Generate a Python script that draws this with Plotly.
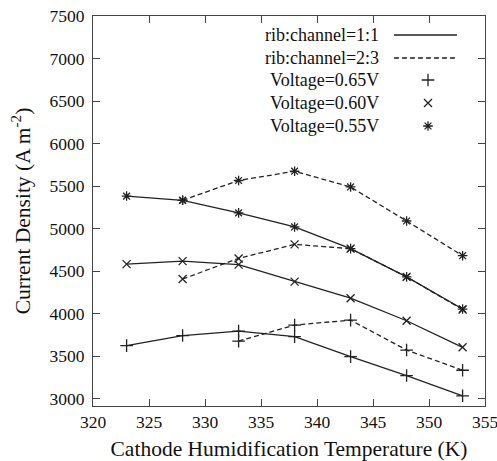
import plotly.graph_objects as go

temps = [323, 328, 333, 338, 343, 348, 353]
temps_23 = [328, 333, 338, 343, 348, 353]
temps_23_065 = [333, 338, 343, 348, 353]

j11_065 = [3625, 3743, 3795, 3731, 3495, 3273, 3035]
j11_060 = [4583, 4618, 4577, 4377, 4182, 3917, 3605]
j11_055 = [5383, 5333, 5185, 5020, 4765, 4433, 4055]

j23_065 = [3678, 3866, 3925, 3573, 3335]
j23_060 = [4408, 4650, 4815, 4765, 4433, 4050]
j23_055 = [5333, 5566, 5675, 5490, 5090, 4682]

legend_labels = ["rib:channel=1:1", "rib:channel=2:3",
                 "Voltage=0.65V", "Voltage=0.60V", "Voltage=0.55V"]

FONT = "Liberation Serif"
LC = "#222222"
fig = go.Figure()

def add(x, y, dashed, sym, size):
    fig.add_trace(go.Scatter(
        x=x, y=y, mode="lines+markers", showlegend=False,
        line=dict(color=LC, width=1.3, dash="5px,3px" if dashed else "solid"),
        marker=dict(symbol=sym, size=size, color=LC, line=dict(color=LC, width=1.3)),
    ))

add(temps, j11_065, False, "cross-thin-open", 9)
add(temps, j11_060, False, "x-thin-open", 8)
add(temps, j11_055, False, "asterisk-open", 8)
add(temps_23_065, j23_065, True, "cross-thin-open", 9)
add(temps_23, j23_060, True, "x-thin-open", 8)
add(temps_23, j23_055, True, "asterisk-open", 8)

# custom gnuplot-style key
def px2x(px):
    return (px - 93) / 392
def py2y(py):
    return (406 - py) / 390

rows = [35, 58, 80, 103, 126]
annotations = []
for lab, r in zip(legend_labels, rows):
    annotations.append(dict(x=px2x(381), y=py2y(r), xref="paper", yref="paper",
                            text=lab, showarrow=False, xanchor="right", yanchor="middle",
                            font=dict(family=FONT, size=18, color="#111")))
shapes = [
    dict(type="line", xref="paper", yref="paper", x0=px2x(394), x1=px2x(457),
         y0=py2y(rows[0]), y1=py2y(rows[0]), line=dict(color=LC, width=1.3)),
    dict(type="line", xref="paper", yref="paper", x0=px2x(394), x1=px2x(457),
         y0=py2y(rows[1]), y1=py2y(rows[1]), line=dict(color=LC, width=1.3, dash="5px,3px")),
]
for sym, r, size in [("cross-thin-open", rows[2], 9), ("x-thin-open", rows[3], 8),
                     ("asterisk-open", rows[4], 8)]:
    fig.add_trace(go.Scatter(x=[px2x(428)], y=[py2y(r)], xaxis="x2", yaxis="y2",
                             mode="markers", showlegend=False,
                             marker=dict(symbol=sym, size=size, color=LC,
                                         line=dict(color=LC, width=1.3))))

axis_common = dict(showgrid=False, zeroline=False, showline=True, linecolor="#444",
                   linewidth=1.2, mirror="ticks", ticks="inside", ticklen=7,
                   tickcolor="#444", tickwidth=1.2, automargin=False,
                   ticklabeloverflow="allow",
                   tickfont=dict(family=FONT, size=17.5, color="#111"))

fig.update_layout(
    width=497, height=461,
    margin=dict(l=93, r=12, t=16, b=55),
    paper_bgcolor="white", plot_bgcolor="white",
    xaxis=dict(range=[320, 355.0001], dtick=5, tick0=320,
               title=dict(text="Cathode Humidification Temperature (K)", standoff=10,
                          font=dict(family=FONT, size=21.5, color="#111")),
               **axis_common),
    yaxis=dict(range=[2915, 7500.0001], dtick=500, tick0=3000, ticklabelstandoff=4,
               title=dict(text="Current Density (A m<sup>-2</sup>)", standoff=12,
                          font=dict(family=FONT, size=21.5, color="#111")),
               **axis_common),
    xaxis2=dict(range=[0, 1], overlaying="x", visible=False, anchor="y2"),
    yaxis2=dict(range=[0, 1], overlaying="y", visible=False, anchor="x2"),
    annotations=annotations, shapes=shapes,
)

fig.write_html("out.html")
